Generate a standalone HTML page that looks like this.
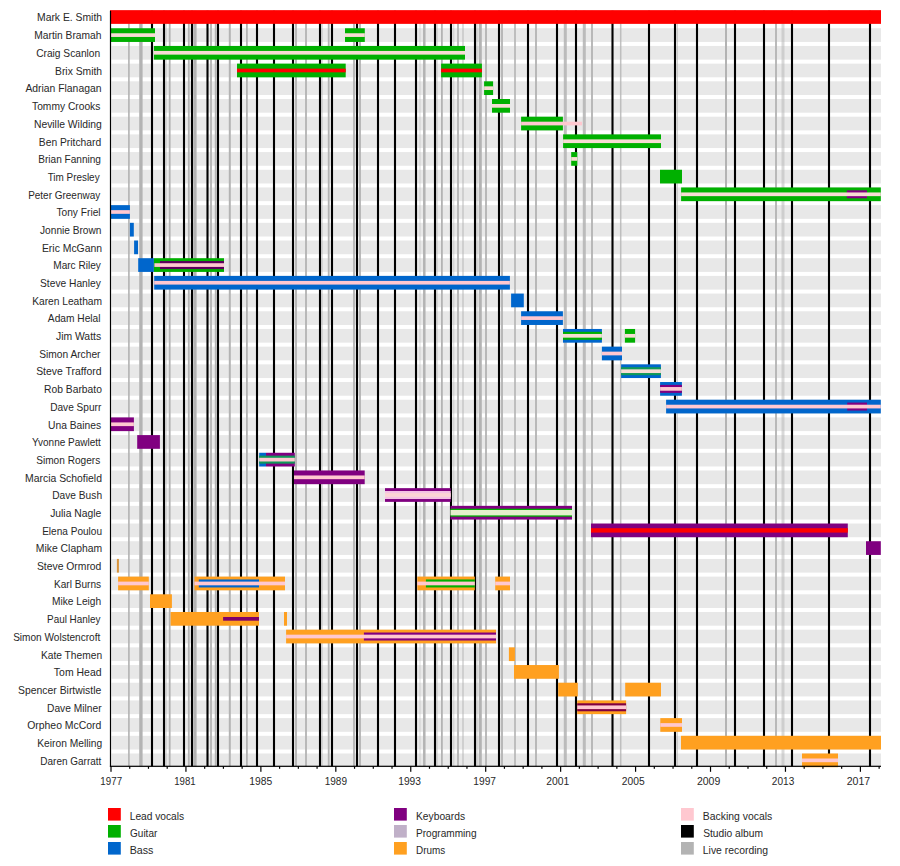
<!DOCTYPE html><html><head><meta charset="utf-8"><style>html,body{margin:0;padding:0;background:#fff;width:900px;height:866px;overflow:hidden;position:relative}</style></head><body><svg width="900" height="866" viewBox="0 0 900 866" style="position:absolute;left:0;top:0">
<rect x="111.50" y="10.16" width="769.50" height="13.7" fill="#e8e8e8"/>
<rect x="111.50" y="28.25" width="769.50" height="13.7" fill="#e8e8e8"/>
<rect x="111.50" y="45.94" width="769.50" height="13.7" fill="#e8e8e8"/>
<rect x="111.50" y="63.63" width="769.50" height="13.7" fill="#e8e8e8"/>
<rect x="111.50" y="81.32" width="769.50" height="13.7" fill="#e8e8e8"/>
<rect x="111.50" y="99.00" width="769.50" height="13.7" fill="#e8e8e8"/>
<rect x="111.50" y="116.69" width="769.50" height="13.7" fill="#e8e8e8"/>
<rect x="111.50" y="134.38" width="769.50" height="13.7" fill="#e8e8e8"/>
<rect x="111.50" y="152.07" width="769.50" height="13.7" fill="#e8e8e8"/>
<rect x="111.50" y="169.76" width="769.50" height="13.7" fill="#e8e8e8"/>
<rect x="111.50" y="187.45" width="769.50" height="13.7" fill="#e8e8e8"/>
<rect x="111.50" y="205.14" width="769.50" height="13.7" fill="#e8e8e8"/>
<rect x="111.50" y="222.83" width="769.50" height="13.7" fill="#e8e8e8"/>
<rect x="111.50" y="240.52" width="769.50" height="13.7" fill="#e8e8e8"/>
<rect x="111.50" y="258.21" width="769.50" height="13.7" fill="#e8e8e8"/>
<rect x="111.50" y="275.89" width="769.50" height="13.7" fill="#e8e8e8"/>
<rect x="111.50" y="293.58" width="769.50" height="13.7" fill="#e8e8e8"/>
<rect x="111.50" y="311.27" width="769.50" height="13.7" fill="#e8e8e8"/>
<rect x="111.50" y="328.96" width="769.50" height="13.7" fill="#e8e8e8"/>
<rect x="111.50" y="346.65" width="769.50" height="13.7" fill="#e8e8e8"/>
<rect x="111.50" y="364.34" width="769.50" height="13.7" fill="#e8e8e8"/>
<rect x="111.50" y="382.03" width="769.50" height="13.7" fill="#e8e8e8"/>
<rect x="111.50" y="399.72" width="769.50" height="13.7" fill="#e8e8e8"/>
<rect x="111.50" y="417.41" width="769.50" height="13.7" fill="#e8e8e8"/>
<rect x="111.50" y="435.10" width="769.50" height="13.7" fill="#e8e8e8"/>
<rect x="111.50" y="452.79" width="769.50" height="13.7" fill="#e8e8e8"/>
<rect x="111.50" y="470.47" width="769.50" height="13.7" fill="#e8e8e8"/>
<rect x="111.50" y="488.16" width="769.50" height="13.7" fill="#e8e8e8"/>
<rect x="111.50" y="505.85" width="769.50" height="13.7" fill="#e8e8e8"/>
<rect x="111.50" y="523.54" width="769.50" height="13.7" fill="#e8e8e8"/>
<rect x="111.50" y="541.23" width="769.50" height="13.7" fill="#e8e8e8"/>
<rect x="111.50" y="558.92" width="769.50" height="13.7" fill="#e8e8e8"/>
<rect x="111.50" y="576.61" width="769.50" height="13.7" fill="#e8e8e8"/>
<rect x="111.50" y="594.30" width="769.50" height="13.7" fill="#e8e8e8"/>
<rect x="111.50" y="611.99" width="769.50" height="13.7" fill="#e8e8e8"/>
<rect x="111.50" y="629.67" width="769.50" height="13.7" fill="#e8e8e8"/>
<rect x="111.50" y="647.36" width="769.50" height="13.7" fill="#e8e8e8"/>
<rect x="111.50" y="665.05" width="769.50" height="13.7" fill="#e8e8e8"/>
<rect x="111.50" y="682.74" width="769.50" height="13.7" fill="#e8e8e8"/>
<rect x="111.50" y="700.43" width="769.50" height="13.7" fill="#e8e8e8"/>
<rect x="111.50" y="718.12" width="769.50" height="13.7" fill="#e8e8e8"/>
<rect x="111.50" y="735.81" width="769.50" height="13.7" fill="#e8e8e8"/>
<rect x="111.50" y="753.50" width="769.50" height="13.7" fill="#e8e8e8"/>
<rect x="128.10" y="10.8" width="1.6" height="755.50" fill="#b3b3b3" fill-opacity="1"/>
<rect x="139.20" y="10.8" width="3.4" height="755.50" fill="#b3b3b3" fill-opacity="1"/>
<rect x="165.40" y="10.8" width="1.2" height="755.50" fill="#b3b3b3" fill-opacity="0.6"/>
<rect x="168.80" y="10.8" width="1.8" height="755.50" fill="#b3b3b3" fill-opacity="1"/>
<rect x="187.90" y="10.8" width="1.8" height="755.50" fill="#b3b3b3" fill-opacity="1"/>
<rect x="193.40" y="10.8" width="3.2" height="755.50" fill="#b3b3b3" fill-opacity="1"/>
<rect x="210.10" y="10.8" width="1.8" height="755.50" fill="#b3b3b3" fill-opacity="1"/>
<rect x="214.80" y="10.8" width="1.8" height="755.50" fill="#b3b3b3" fill-opacity="1"/>
<rect x="228.80" y="10.8" width="2" height="755.50" fill="#b3b3b3" fill-opacity="1"/>
<rect x="246.00" y="10.8" width="1.8" height="755.50" fill="#b3b3b3" fill-opacity="1"/>
<rect x="295.10" y="10.8" width="1.8" height="755.50" fill="#b3b3b3" fill-opacity="1"/>
<rect x="305.10" y="10.8" width="1.8" height="755.50" fill="#b3b3b3" fill-opacity="1"/>
<rect x="321.40" y="10.8" width="1.2" height="755.50" fill="#b3b3b3" fill-opacity="0.6"/>
<rect x="327.80" y="10.8" width="1.8" height="755.50" fill="#b3b3b3" fill-opacity="1"/>
<rect x="353.10" y="10.8" width="1.8" height="755.50" fill="#b3b3b3" fill-opacity="1"/>
<rect x="359.10" y="10.8" width="1.8" height="755.50" fill="#b3b3b3" fill-opacity="1"/>
<rect x="419.40" y="10.8" width="1.2" height="755.50" fill="#b3b3b3" fill-opacity="0.4"/>
<rect x="423.05" y="10.8" width="2.5" height="755.50" fill="#b3b3b3" fill-opacity="1"/>
<rect x="436.40" y="10.8" width="1.2" height="755.50" fill="#b3b3b3" fill-opacity="0.6"/>
<rect x="441.00" y="10.8" width="1.8" height="755.50" fill="#b3b3b3" fill-opacity="1"/>
<rect x="453.10" y="10.8" width="1.2" height="755.50" fill="#b3b3b3" fill-opacity="0.4"/>
<rect x="457.10" y="10.8" width="1.8" height="755.50" fill="#b3b3b3" fill-opacity="1"/>
<rect x="462.25" y="10.8" width="1.5" height="755.50" fill="#b3b3b3" fill-opacity="0.6"/>
<rect x="476.40" y="10.8" width="1.2" height="755.50" fill="#b3b3b3" fill-opacity="0.6"/>
<rect x="478.80" y="10.8" width="3" height="755.50" fill="#b3b3b3" fill-opacity="1"/>
<rect x="485.10" y="10.8" width="1.8" height="755.50" fill="#b3b3b3" fill-opacity="1"/>
<rect x="501.10" y="10.8" width="1.8" height="755.50" fill="#b3b3b3" fill-opacity="1"/>
<rect x="514.00" y="10.8" width="2" height="755.50" fill="#b3b3b3" fill-opacity="0.8"/>
<rect x="535.10" y="10.8" width="1.8" height="755.50" fill="#b3b3b3" fill-opacity="1"/>
<rect x="563.80" y="10.8" width="3" height="755.50" fill="#b3b3b3" fill-opacity="0.85"/>
<rect x="582.80" y="10.8" width="3" height="755.50" fill="#b3b3b3" fill-opacity="0.85"/>
<rect x="591.10" y="10.8" width="1.8" height="755.50" fill="#b3b3b3" fill-opacity="1"/>
<rect x="619.95" y="10.8" width="1.5" height="755.50" fill="#b3b3b3" fill-opacity="0.8"/>
<rect x="676.70" y="10.8" width="1.2" height="755.50" fill="#b3b3b3" fill-opacity="0.6"/>
<rect x="725.00" y="10.8" width="2" height="755.50" fill="#b3b3b3" fill-opacity="1"/>
<rect x="775.10" y="10.8" width="1.8" height="755.50" fill="#b3b3b3" fill-opacity="1"/>
<rect x="781.50" y="10.8" width="3" height="755.50" fill="#b3b3b3" fill-opacity="0.5"/>
<rect x="150.95" y="10.8" width="2.1" height="755.50" fill="#000"/>
<rect x="162.95" y="10.8" width="2.1" height="755.50" fill="#000"/>
<rect x="182.95" y="10.8" width="2.1" height="755.50" fill="#000"/>
<rect x="190.95" y="10.8" width="2.1" height="755.50" fill="#000"/>
<rect x="206.45" y="10.8" width="2.1" height="755.50" fill="#000"/>
<rect x="216.95" y="10.8" width="2.1" height="755.50" fill="#000"/>
<rect x="239.95" y="10.8" width="2.1" height="755.50" fill="#000"/>
<rect x="255.95" y="10.8" width="2.1" height="755.50" fill="#000"/>
<rect x="272.95" y="10.8" width="2.1" height="755.50" fill="#000"/>
<rect x="291.95" y="10.8" width="2.1" height="755.50" fill="#000"/>
<rect x="318.95" y="10.8" width="2.1" height="755.50" fill="#000"/>
<rect x="330.95" y="10.8" width="2.1" height="755.50" fill="#000"/>
<rect x="355.95" y="10.8" width="2.1" height="755.50" fill="#000"/>
<rect x="376.95" y="10.8" width="2.1" height="755.50" fill="#000"/>
<rect x="393.95" y="10.8" width="2.1" height="755.50" fill="#000"/>
<rect x="414.95" y="10.8" width="2.1" height="755.50" fill="#000"/>
<rect x="433.95" y="10.8" width="2.1" height="755.50" fill="#000"/>
<rect x="449.95" y="10.8" width="2.1" height="755.50" fill="#000"/>
<rect x="473.95" y="10.8" width="2.1" height="755.50" fill="#000"/>
<rect x="497.95" y="10.8" width="2.1" height="755.50" fill="#000"/>
<rect x="526.95" y="10.8" width="2.1" height="755.50" fill="#000"/>
<rect x="555.95" y="10.8" width="2.1" height="755.50" fill="#000"/>
<rect x="574.95" y="10.8" width="2.1" height="755.50" fill="#000"/>
<rect x="611.45" y="10.8" width="2.1" height="755.50" fill="#000"/>
<rect x="647.95" y="10.8" width="2.1" height="755.50" fill="#000"/>
<rect x="673.95" y="10.8" width="2.1" height="755.50" fill="#000"/>
<rect x="695.95" y="10.8" width="2.1" height="755.50" fill="#000"/>
<rect x="733.95" y="10.8" width="2.1" height="755.50" fill="#000"/>
<rect x="762.95" y="10.8" width="2.1" height="755.50" fill="#000"/>
<rect x="790.95" y="10.8" width="2.1" height="755.50" fill="#000"/>
<rect x="827.95" y="10.8" width="2.1" height="755.50" fill="#000"/>
<rect x="868.95" y="10.8" width="2.1" height="755.50" fill="#000"/>
<rect x="110.00" y="10.16" width="771.00" height="13.7" fill="#ff0000"/>
<rect x="110.00" y="28.25" width="45.00" height="13.7" fill="#00b000"/>
<rect x="110.00" y="33.25" width="45.00" height="3.7" fill="#f8dcd4"/>
<rect x="345.00" y="28.25" width="19.80" height="13.7" fill="#00b000"/>
<rect x="345.00" y="33.25" width="19.80" height="3.7" fill="#f8dcd4"/>
<rect x="153.90" y="45.94" width="311.10" height="13.7" fill="#00b000"/>
<rect x="153.90" y="50.94" width="311.10" height="3.7" fill="#f8dcd4"/>
<rect x="237.00" y="63.63" width="108.70" height="13.7" fill="#00b000"/>
<rect x="237.00" y="68.63" width="108.70" height="3.7" fill="#ff0000"/>
<rect x="441.10" y="63.63" width="40.80" height="13.7" fill="#00b000"/>
<rect x="441.10" y="68.63" width="40.80" height="3.7" fill="#ff0000"/>
<rect x="484.10" y="81.32" width="9.00" height="13.7" fill="#00b000"/>
<rect x="484.10" y="86.32" width="9.00" height="3.7" fill="#f8dcd4"/>
<rect x="492.00" y="99.00" width="18.00" height="13.7" fill="#00b000"/>
<rect x="492.00" y="104.00" width="18.00" height="3.7" fill="#f8dcd4"/>
<rect x="521.10" y="116.69" width="41.80" height="13.7" fill="#00b000"/>
<rect x="521.10" y="121.69" width="60.90" height="3.7" fill="#ffc8d0"/>
<rect x="563.10" y="134.38" width="97.90" height="13.7" fill="#00b000"/>
<rect x="563.10" y="139.38" width="97.90" height="3.7" fill="#f8dcd4"/>
<rect x="571.20" y="152.07" width="6.10" height="13.7" fill="#00b000"/>
<rect x="571.20" y="157.07" width="6.10" height="3.7" fill="#f8dcd4"/>
<rect x="660.00" y="169.76" width="22.00" height="13.7" fill="#00b000"/>
<rect x="681.10" y="187.45" width="199.70" height="13.7" fill="#00b000"/>
<rect x="846.80" y="190.30" width="20.20" height="8.0" fill="#800080"/>
<rect x="681.10" y="192.45" width="199.70" height="3.7" fill="#f8dcd4"/>
<rect x="110.00" y="205.14" width="19.90" height="13.7" fill="#0066cc"/>
<rect x="110.00" y="210.14" width="19.90" height="3.7" fill="#ffc8d0"/>
<rect x="129.90" y="222.83" width="3.90" height="13.7" fill="#0066cc"/>
<rect x="134.10" y="240.52" width="3.90" height="13.7" fill="#0066cc"/>
<rect x="138.20" y="258.21" width="15.70" height="13.7" fill="#0066cc"/>
<rect x="153.90" y="258.21" width="70.10" height="13.7" fill="#00b000"/>
<rect x="160.00" y="261.06" width="64.00" height="8.0" fill="#5c005c"/>
<rect x="154.40" y="263.21" width="69.60" height="3.7" fill="#ffc8d0"/>
<rect x="154.20" y="275.89" width="355.70" height="13.7" fill="#0066cc"/>
<rect x="154.20" y="280.89" width="355.70" height="3.7" fill="#ffc8d0"/>
<rect x="511.10" y="293.58" width="12.70" height="13.7" fill="#0066cc"/>
<rect x="521.10" y="311.27" width="41.80" height="13.7" fill="#0066cc"/>
<rect x="521.10" y="316.27" width="41.80" height="3.7" fill="#ffc8d0"/>
<rect x="563.00" y="328.96" width="38.90" height="13.7" fill="#0066cc"/>
<rect x="563.00" y="331.81" width="38.90" height="8.0" fill="#00b000"/>
<rect x="563.00" y="333.96" width="38.90" height="3.7" fill="#f8dcd4"/>
<rect x="624.90" y="328.96" width="10.20" height="13.7" fill="#00b000"/>
<rect x="624.90" y="333.96" width="10.20" height="3.7" fill="#f8dcd4"/>
<rect x="601.90" y="346.65" width="20.10" height="13.7" fill="#0066cc"/>
<rect x="601.90" y="351.65" width="20.10" height="3.7" fill="#ffc8d0"/>
<rect x="621.10" y="364.34" width="39.80" height="13.7" fill="#0066cc"/>
<rect x="621.10" y="367.19" width="39.80" height="8.0" fill="#109858"/>
<rect x="621.10" y="369.34" width="39.80" height="3.7" fill="#f8dcd4"/>
<rect x="660.10" y="382.03" width="21.80" height="13.7" fill="#0066cc"/>
<rect x="660.10" y="384.88" width="21.80" height="8.0" fill="#800080"/>
<rect x="660.10" y="387.03" width="21.80" height="3.7" fill="#ffc8d0"/>
<rect x="666.10" y="399.72" width="214.70" height="13.7" fill="#0066cc"/>
<rect x="847.20" y="402.57" width="19.80" height="8.0" fill="#800080"/>
<rect x="666.10" y="404.72" width="214.70" height="3.7" fill="#ffc8d0"/>
<rect x="110.00" y="417.41" width="23.90" height="13.7" fill="#800080"/>
<rect x="110.00" y="422.41" width="23.90" height="3.7" fill="#ffc8d0"/>
<rect x="137.20" y="435.10" width="22.70" height="13.7" fill="#800080"/>
<rect x="259.20" y="452.79" width="6.80" height="13.7" fill="#0066cc"/>
<rect x="266.00" y="452.79" width="28.80" height="13.7" fill="#800080"/>
<rect x="259.20" y="455.64" width="35.60" height="8.0" fill="#109858"/>
<rect x="259.20" y="457.79" width="35.60" height="3.7" fill="#ffc8d0"/>
<rect x="294.00" y="470.47" width="70.70" height="13.7" fill="#800080"/>
<rect x="294.00" y="475.47" width="70.70" height="3.7" fill="#ffc8d0"/>
<rect x="385.00" y="488.16" width="65.70" height="13.7" fill="#800080"/>
<rect x="385.00" y="491.01" width="65.70" height="8.0" fill="#f4c4e4"/>
<rect x="385.00" y="493.16" width="65.70" height="3.7" fill="#fcd4d4"/>
<rect x="450.50" y="505.85" width="121.50" height="13.7" fill="#800080"/>
<rect x="450.50" y="508.70" width="121.50" height="8.0" fill="#00b000"/>
<rect x="450.50" y="510.00" width="121.50" height="5.4" fill="#e4f0cc"/>
<rect x="591.00" y="523.54" width="256.80" height="13.7" fill="#800080"/>
<rect x="591.00" y="528.19" width="256.80" height="4.4" fill="#ff0000"/>
<rect x="866.00" y="541.23" width="14.80" height="13.7" fill="#800080"/>
<rect x="116.90" y="558.92" width="2.00" height="13.7" fill="#d8943c"/>
<rect x="118.10" y="576.61" width="30.70" height="13.7" fill="#ffa020"/>
<rect x="118.10" y="581.61" width="30.70" height="3.7" fill="#ffc8d0"/>
<rect x="194.50" y="576.61" width="90.50" height="13.7" fill="#ffa020"/>
<rect x="198.80" y="579.46" width="60.20" height="8.0" fill="#0066cc"/>
<rect x="194.50" y="581.61" width="90.50" height="3.7" fill="#ffc8d0"/>
<rect x="417.30" y="576.61" width="57.50" height="13.7" fill="#ffa020"/>
<rect x="425.90" y="579.46" width="48.90" height="8.0" fill="#00b000"/>
<rect x="417.30" y="581.61" width="57.50" height="3.7" fill="#ffc8d0"/>
<rect x="495.20" y="576.61" width="14.80" height="13.7" fill="#ffa020"/>
<rect x="495.20" y="581.61" width="14.80" height="3.7" fill="#ffc8d0"/>
<rect x="150.00" y="594.30" width="21.90" height="13.7" fill="#ffa020"/>
<rect x="170.60" y="611.99" width="88.40" height="13.7" fill="#ffa020"/>
<rect x="223.10" y="616.99" width="35.90" height="3.7" fill="#800068"/>
<rect x="284.00" y="611.99" width="3.00" height="13.7" fill="#ffa020"/>
<rect x="286.10" y="629.67" width="209.90" height="13.7" fill="#ffa020"/>
<rect x="363.90" y="632.52" width="132.10" height="8.0" fill="#800080"/>
<rect x="286.10" y="634.67" width="209.90" height="3.7" fill="#ffc8d0"/>
<rect x="508.90" y="647.36" width="6.00" height="13.7" fill="#ffa020"/>
<rect x="514.00" y="665.05" width="44.90" height="13.7" fill="#ffa020"/>
<rect x="558.20" y="682.74" width="19.60" height="13.7" fill="#ffa020"/>
<rect x="625.20" y="682.74" width="35.80" height="13.7" fill="#ffa020"/>
<rect x="577.20" y="700.43" width="48.90" height="13.7" fill="#ffa020"/>
<rect x="577.20" y="703.28" width="48.90" height="8.0" fill="#800040"/>
<rect x="577.20" y="705.43" width="48.90" height="3.7" fill="#ffc8d0"/>
<rect x="660.30" y="718.12" width="21.70" height="13.7" fill="#ffa020"/>
<rect x="660.30" y="723.12" width="21.70" height="3.7" fill="#ffc8d0"/>
<rect x="681.00" y="735.81" width="200.00" height="13.7" fill="#ffa020"/>
<rect x="802.00" y="753.50" width="36.00" height="13.7" fill="#ffa020"/>
<rect x="802.00" y="758.50" width="36.00" height="3.7" fill="#ffc8d0"/>
<rect x="109.90" y="10.8" width="1.2" height="756.10" fill="#000"/>
<rect x="109.90" y="765.70" width="771.10" height="1.2" fill="#000"/>
<rect x="110.40" y="766.30" width="1.2" height="5.5" fill="#000"/>
<text transform="translate(100.37,784.70) scale(0.9385,1)" font-family="Liberation Sans" font-size="10.4" fill="#282828">1977</text>
<rect x="129.14" y="766.30" width="1.2" height="2.5" fill="#000"/>
<rect x="147.87" y="766.30" width="1.2" height="2.5" fill="#000"/>
<rect x="166.60" y="766.30" width="1.2" height="2.5" fill="#000"/>
<rect x="185.34" y="766.30" width="1.2" height="5.5" fill="#000"/>
<text transform="translate(174.28,784.70) scale(0.9247,1)" font-family="Liberation Sans" font-size="10.4" fill="#282828">1981</text>
<rect x="204.08" y="766.30" width="1.2" height="2.5" fill="#000"/>
<rect x="222.81" y="766.30" width="1.2" height="2.5" fill="#000"/>
<rect x="241.54" y="766.30" width="1.2" height="2.5" fill="#000"/>
<rect x="260.28" y="766.30" width="1.2" height="5.5" fill="#000"/>
<text transform="translate(249.32,784.70) scale(0.9936,1)" font-family="Liberation Sans" font-size="10.4" fill="#282828">1985</text>
<rect x="279.01" y="766.30" width="1.2" height="2.5" fill="#000"/>
<rect x="297.75" y="766.30" width="1.2" height="2.5" fill="#000"/>
<rect x="316.48" y="766.30" width="1.2" height="2.5" fill="#000"/>
<rect x="335.22" y="766.30" width="1.2" height="5.5" fill="#000"/>
<text transform="translate(324.65,784.70) scale(0.9661,1)" font-family="Liberation Sans" font-size="10.4" fill="#282828">1989</text>
<rect x="353.95" y="766.30" width="1.2" height="2.5" fill="#000"/>
<rect x="372.69" y="766.30" width="1.2" height="2.5" fill="#000"/>
<rect x="391.42" y="766.30" width="1.2" height="2.5" fill="#000"/>
<rect x="410.16" y="766.30" width="1.2" height="5.5" fill="#000"/>
<text transform="translate(398.23,784.70) scale(0.9844,1)" font-family="Liberation Sans" font-size="10.4" fill="#282828">1993</text>
<rect x="428.89" y="766.30" width="1.2" height="2.5" fill="#000"/>
<rect x="447.63" y="766.30" width="1.2" height="2.5" fill="#000"/>
<rect x="466.36" y="766.30" width="1.2" height="2.5" fill="#000"/>
<rect x="485.10" y="766.30" width="1.2" height="5.5" fill="#000"/>
<text transform="translate(473.33,784.70) scale(0.9799,1)" font-family="Liberation Sans" font-size="10.4" fill="#282828">1997</text>
<rect x="503.83" y="766.30" width="1.2" height="2.5" fill="#000"/>
<rect x="522.57" y="766.30" width="1.2" height="2.5" fill="#000"/>
<rect x="541.30" y="766.30" width="1.2" height="2.5" fill="#000"/>
<rect x="560.04" y="766.30" width="1.2" height="5.5" fill="#000"/>
<text transform="translate(546.33,784.70) scale(0.9933,1)" font-family="Liberation Sans" font-size="10.4" fill="#282828">2001</text>
<rect x="578.77" y="766.30" width="1.2" height="2.5" fill="#000"/>
<rect x="597.51" y="766.30" width="1.2" height="2.5" fill="#000"/>
<rect x="616.25" y="766.30" width="1.2" height="2.5" fill="#000"/>
<rect x="634.98" y="766.30" width="1.2" height="5.5" fill="#000"/>
<text transform="translate(621.84,784.70) scale(0.9886,1)" font-family="Liberation Sans" font-size="10.4" fill="#282828">2005</text>
<rect x="653.71" y="766.30" width="1.2" height="2.5" fill="#000"/>
<rect x="672.45" y="766.30" width="1.2" height="2.5" fill="#000"/>
<rect x="691.18" y="766.30" width="1.2" height="2.5" fill="#000"/>
<rect x="709.92" y="766.30" width="1.2" height="5.5" fill="#000"/>
<text transform="translate(696.92,784.70) scale(1.0112,1)" font-family="Liberation Sans" font-size="10.4" fill="#282828">2009</text>
<rect x="728.65" y="766.30" width="1.2" height="2.5" fill="#000"/>
<rect x="747.39" y="766.30" width="1.2" height="2.5" fill="#000"/>
<rect x="766.12" y="766.30" width="1.2" height="2.5" fill="#000"/>
<rect x="784.86" y="766.30" width="1.2" height="5.5" fill="#000"/>
<text transform="translate(771.85,784.70) scale(0.9706,1)" font-family="Liberation Sans" font-size="10.4" fill="#282828">2013</text>
<rect x="803.59" y="766.30" width="1.2" height="2.5" fill="#000"/>
<rect x="822.33" y="766.30" width="1.2" height="2.5" fill="#000"/>
<rect x="841.06" y="766.30" width="1.2" height="2.5" fill="#000"/>
<rect x="859.80" y="766.30" width="1.2" height="5.5" fill="#000"/>
<text transform="translate(846.72,784.70) scale(1.0160,1)" font-family="Liberation Sans" font-size="10.4" fill="#282828">2017</text>
<rect x="878.53" y="766.30" width="1.2" height="2.5" fill="#000"/>
<text transform="translate(37.02,21.31) scale(1.0172,1)" font-family="Liberation Sans" font-size="10.2" fill="#282828">Mark E. Smith</text>
<text transform="translate(34.23,39.40) scale(1.0064,1)" font-family="Liberation Sans" font-size="10.2" fill="#282828">Martin Bramah</text>
<text transform="translate(36.14,57.09) scale(1.0010,1)" font-family="Liberation Sans" font-size="10.2" fill="#282828">Craig Scanlon</text>
<text transform="translate(55.02,74.78) scale(1.0137,1)" font-family="Liberation Sans" font-size="10.2" fill="#282828">Brix Smith</text>
<text transform="translate(25.45,92.47) scale(1.0168,1)" font-family="Liberation Sans" font-size="10.2" fill="#282828">Adrian Flanagan</text>
<text transform="translate(32.05,110.15) scale(1.0041,1)" font-family="Liberation Sans" font-size="10.2" fill="#282828">Tommy Crooks</text>
<text transform="translate(33.92,127.84) scale(1.0156,1)" font-family="Liberation Sans" font-size="10.2" fill="#282828">Neville Wilding</text>
<text transform="translate(38.83,145.53) scale(1.0086,1)" font-family="Liberation Sans" font-size="10.2" fill="#282828">Ben Pritchard</text>
<text transform="translate(38.24,163.22) scale(0.9901,1)" font-family="Liberation Sans" font-size="10.2" fill="#282828">Brian Fanning</text>
<text transform="translate(47.65,180.91) scale(0.9729,1)" font-family="Liberation Sans" font-size="10.2" fill="#282828">Tim Presley</text>
<text transform="translate(28.15,198.60) scale(0.9790,1)" font-family="Liberation Sans" font-size="10.2" fill="#282828">Peter Greenway</text>
<text transform="translate(56.45,216.29) scale(0.9988,1)" font-family="Liberation Sans" font-size="10.2" fill="#282828">Tony Friel</text>
<text transform="translate(40.05,233.98) scale(0.9952,1)" font-family="Liberation Sans" font-size="10.2" fill="#282828">Jonnie Brown</text>
<text transform="translate(41.92,251.67) scale(1.0222,1)" font-family="Liberation Sans" font-size="10.2" fill="#282828">Eric McGann</text>
<text transform="translate(53.24,269.36) scale(0.9888,1)" font-family="Liberation Sans" font-size="10.2" fill="#282828">Marc Riley</text>
<text transform="translate(40.04,287.05) scale(1.0037,1)" font-family="Liberation Sans" font-size="10.2" fill="#282828">Steve Hanley</text>
<text transform="translate(32.13,304.73) scale(1.0038,1)" font-family="Liberation Sans" font-size="10.2" fill="#282828">Karen Leatham</text>
<text transform="translate(47.85,322.42) scale(1.0015,1)" font-family="Liberation Sans" font-size="10.2" fill="#282828">Adam Helal</text>
<text transform="translate(55.94,340.11) scale(1.0192,1)" font-family="Liberation Sans" font-size="10.2" fill="#282828">Jim Watts</text>
<text transform="translate(39.14,357.80) scale(1.0035,1)" font-family="Liberation Sans" font-size="10.2" fill="#282828">Simon Archer</text>
<text transform="translate(36.13,375.49) scale(1.0234,1)" font-family="Liberation Sans" font-size="10.2" fill="#282828">Steve Trafford</text>
<text transform="translate(44.03,393.18) scale(1.0108,1)" font-family="Liberation Sans" font-size="10.2" fill="#282828">Rob Barbato</text>
<text transform="translate(50.14,410.87) scale(0.9923,1)" font-family="Liberation Sans" font-size="10.2" fill="#282828">Dave Spurr</text>
<text transform="translate(48.03,428.56) scale(1.0095,1)" font-family="Liberation Sans" font-size="10.2" fill="#282828">Una Baines</text>
<text transform="translate(31.95,446.25) scale(0.9804,1)" font-family="Liberation Sans" font-size="10.2" fill="#282828">Yvonne Pawlett</text>
<text transform="translate(36.14,463.94) scale(0.9929,1)" font-family="Liberation Sans" font-size="10.2" fill="#282828">Simon Rogers</text>
<text transform="translate(25.02,481.62) scale(1.0223,1)" font-family="Liberation Sans" font-size="10.2" fill="#282828">Marcia Schofield</text>
<text transform="translate(52.23,499.31) scale(0.9990,1)" font-family="Liberation Sans" font-size="10.2" fill="#282828">Dave Bush</text>
<text transform="translate(50.14,517.00) scale(1.0145,1)" font-family="Liberation Sans" font-size="10.2" fill="#282828">Julia Nagle</text>
<text transform="translate(42.14,534.69) scale(0.9888,1)" font-family="Liberation Sans" font-size="10.2" fill="#282828">Elena Poulou</text>
<text transform="translate(35.82,552.38) scale(1.0181,1)" font-family="Liberation Sans" font-size="10.2" fill="#282828">Mike Clapham</text>
<text transform="translate(36.93,570.07) scale(1.0173,1)" font-family="Liberation Sans" font-size="10.2" fill="#282828">Steve Ormrod</text>
<text transform="translate(54.04,587.76) scale(0.9912,1)" font-family="Liberation Sans" font-size="10.2" fill="#282828">Karl Burns</text>
<text transform="translate(51.94,605.45) scale(0.9971,1)" font-family="Liberation Sans" font-size="10.2" fill="#282828">Mike Leigh</text>
<text transform="translate(47.06,623.14) scale(0.9712,1)" font-family="Liberation Sans" font-size="10.2" fill="#282828">Paul Hanley</text>
<text transform="translate(13.14,640.82) scale(0.9907,1)" font-family="Liberation Sans" font-size="10.2" fill="#282828">Simon Wolstencroft</text>
<text transform="translate(40.93,658.51) scale(1.0022,1)" font-family="Liberation Sans" font-size="10.2" fill="#282828">Kate Themen</text>
<text transform="translate(53.84,676.20) scale(1.0265,1)" font-family="Liberation Sans" font-size="10.2" fill="#282828">Tom Head</text>
<text transform="translate(18.03,693.89) scale(1.0201,1)" font-family="Liberation Sans" font-size="10.2" fill="#282828">Spencer Birtwistle</text>
<text transform="translate(47.03,711.58) scale(1.0028,1)" font-family="Liberation Sans" font-size="10.2" fill="#282828">Dave Milner</text>
<text transform="translate(27.13,729.27) scale(1.0252,1)" font-family="Liberation Sans" font-size="10.2" fill="#282828">Orpheo McCord</text>
<text transform="translate(37.23,746.96) scale(1.0041,1)" font-family="Liberation Sans" font-size="10.2" fill="#282828">Keiron Melling</text>
<text transform="translate(40.35,764.65) scale(0.9788,1)" font-family="Liberation Sans" font-size="10.2" fill="#282828">Daren Garratt</text>
<rect x="108" y="808" width="12.8" height="12.6" fill="#ff0000"/>
<text transform="translate(129.73,820.00) scale(1.0011,1)" font-family="Liberation Sans" font-size="10.2" fill="#282828">Lead vocals</text>
<rect x="108" y="825" width="12.8" height="12.6" fill="#00b000"/>
<text transform="translate(130.05,837.00) scale(0.9804,1)" font-family="Liberation Sans" font-size="10.2" fill="#282828">Guitar</text>
<rect x="108" y="842" width="12.8" height="12.6" fill="#0066cc"/>
<text transform="translate(129.69,854.00) scale(1.0501,1)" font-family="Liberation Sans" font-size="10.2" fill="#282828">Bass</text>
<rect x="394" y="808" width="12.8" height="12.6" fill="#800080"/>
<text transform="translate(416.03,820.00) scale(1.0077,1)" font-family="Liberation Sans" font-size="10.2" fill="#282828">Keyboards</text>
<rect x="394" y="825" width="12.8" height="12.6" fill="#c0b0c8"/>
<text transform="translate(416.04,837.00) scale(0.9921,1)" font-family="Liberation Sans" font-size="10.2" fill="#282828">Programming</text>
<rect x="394" y="842" width="12.8" height="12.6" fill="#ffa020"/>
<text transform="translate(416.06,854.00) scale(0.9735,1)" font-family="Liberation Sans" font-size="10.2" fill="#282828">Drums</text>
<rect x="681" y="808" width="12.8" height="12.6" fill="#ffc8d0"/>
<text transform="translate(702.82,820.00) scale(1.0208,1)" font-family="Liberation Sans" font-size="10.2" fill="#282828">Backing vocals</text>
<rect x="681" y="825" width="12.8" height="12.6" fill="#000"/>
<text transform="translate(703.14,837.00) scale(1.0078,1)" font-family="Liberation Sans" font-size="10.2" fill="#282828">Studio album</text>
<rect x="681" y="842" width="12.8" height="12.6" fill="#b3b3b3"/>
<text transform="translate(702.82,854.00) scale(1.0187,1)" font-family="Liberation Sans" font-size="10.2" fill="#282828">Live recording</text>
</svg></body></html>
